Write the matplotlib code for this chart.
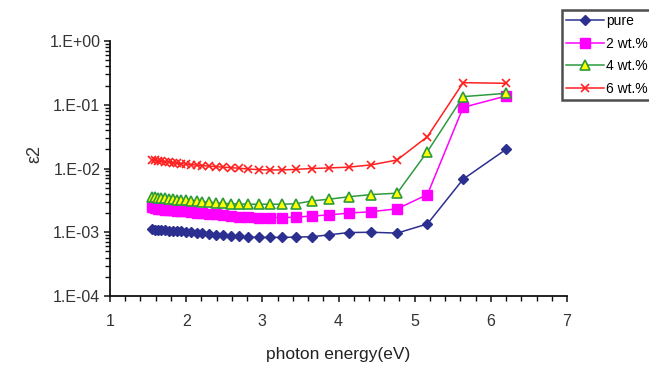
import matplotlib
matplotlib.use("Agg")
import matplotlib.pyplot as plt
from matplotlib.ticker import FixedLocator, MultipleLocator, LogLocator, NullFormatter

plt.rcParams['font.family'] = ['Liberation Sans', 'DejaVu Sans']

# photon energy (eV), one point every 20 nm from 800 nm down to 200 nm
energy = [1.550, 1.590, 1.632, 1.676, 1.722, 1.771, 1.824, 1.879, 1.938, 2.000,
          2.067, 2.138, 2.214, 2.296, 2.385, 2.480, 2.583, 2.696, 2.818, 2.952,
          3.100, 3.263, 3.444, 3.647, 3.875, 4.133, 4.429, 4.769, 5.167, 5.636,
          6.200]

eps2_pure = [1.12e-3, 1.10e-3, 1.09e-3, 1.08e-3, 1.07e-3, 1.06e-3, 1.05e-3, 1.04e-3, 1.03e-3, 1.02e-3,
             1.00e-3, 9.8e-4, 9.6e-4, 9.4e-4, 9.2e-4, 9.0e-4, 8.8e-4, 8.6e-4, 8.4e-4, 8.3e-4,
             8.3e-4, 8.3e-4, 8.4e-4, 8.5e-4, 9.1e-4, 9.9e-4, 1.00e-3, 9.7e-4, 1.35e-3, 6.8e-3,
             2.0e-2]

eps2_2wt = [2.50e-3, 2.40e-3, 2.35e-3, 2.30e-3, 2.27e-3, 2.24e-3, 2.21e-3, 2.18e-3, 2.15e-3, 2.12e-3,
            2.08e-3, 2.03e-3, 1.98e-3, 1.94e-3, 1.90e-3, 1.85e-3, 1.80e-3, 1.76e-3, 1.72e-3, 1.70e-3,
            1.70e-3, 1.70e-3, 1.72e-3, 1.80e-3, 1.87e-3, 2.00e-3, 2.10e-3, 2.33e-3, 3.9e-3, 9.1e-2,
            1.37e-1]

eps2_4wt = [3.60e-3, 3.55e-3, 3.50e-3, 3.45e-3, 3.40e-3, 3.35e-3, 3.30e-3, 3.25e-3, 3.20e-3, 3.18e-3,
            3.12e-3, 3.05e-3, 3.00e-3, 2.95e-3, 2.90e-3, 2.85e-3, 2.80e-3, 2.78e-3, 2.75e-3, 2.75e-3,
            2.75e-3, 2.75e-3, 2.80e-3, 3.10e-3, 3.30e-3, 3.60e-3, 3.90e-3, 4.10e-3, 1.84e-2, 1.34e-1,
            1.51e-1]

eps2_6wt = [1.36e-2, 1.34e-2, 1.32e-2, 1.30e-2, 1.28e-2, 1.26e-2, 1.24e-2, 1.21e-2, 1.19e-2, 1.17e-2,
            1.15e-2, 1.13e-2, 1.11e-2, 1.09e-2, 1.07e-2, 1.05e-2, 1.03e-2, 1.01e-2, 9.8e-3, 9.6e-3,
            9.5e-3, 9.5e-3, 9.7e-3, 1.00e-2, 1.02e-2, 1.05e-2, 1.14e-2, 1.36e-2, 3.16e-2, 2.22e-1,
            2.17e-1]

labels = ["pure", "2 wt.%", "4 wt.%", "6 wt.%"]
x_ticks = [1, 2, 3, 4, 5, 6, 7]
y_ticks = [1e-4, 1e-3, 1e-2, 1e-1, 1e0]
y_ticklabels = ["1.E-04", "1.E-03", "1.E-02", "1.E-01", "1.E+00"]

fig = plt.figure(figsize=(6.49, 3.65), dpi=100)
ax = fig.add_axes([0.1695, 0.189, 0.7042, 0.6987])

ax.plot(energy, eps2_pure, color="#2B2F8F", lw=1.1, marker="D", ms=5.5,
        mfc="#2B2F8F", mec="#2B2F8F", label=labels[0])
ax.plot(energy, eps2_2wt, color="#FF00FF", lw=1.1, marker="s", ms=6.5,
        mfc="#FF00FF", mec="#FF00FF", label=labels[1])
ax.plot(energy, eps2_4wt, color="#2E9A3E", lw=1.1, marker="^", ms=6.5,
        mfc="#FFFF00", mec="#2E9A3E", mew=1.2, label=labels[2])
ax.plot(energy, eps2_6wt, color="#FF2020", lw=1.1, marker="x", ms=6,
        mec="#FF2020", mew=1.2, label=labels[3])

ax.set_yscale("log")
ax.set_xlim(1, 7)
ax.set_ylim(1e-4, 1e0)

ax.xaxis.set_major_locator(FixedLocator(x_ticks))
ax.xaxis.set_minor_locator(MultipleLocator(0.2))
ax.set_yticks(y_ticks)
ax.set_yticklabels(y_ticklabels)
ax.yaxis.set_minor_locator(LogLocator(base=10, subs=range(2, 10)))
ax.yaxis.set_minor_formatter(NullFormatter())

for side in ("top", "right"):
    ax.spines[side].set_visible(False)
for side in ("left", "bottom"):
    ax.spines[side].set_linewidth(1.3)
    ax.spines[side].set_color("#111111")

ax.tick_params(axis="both", which="major", direction="out", length=4, width=1.1,
               labelsize=11.5, colors="#111111", labelcolor="#333333", pad=3)
ax.tick_params(axis="x", which="major", pad=9)
ax.tick_params(axis="both", which="minor", direction="out", length=3.5, width=1.0,
               colors="#111111")

fig.text(0.521, 0.030, "photon energy(eV)", fontsize=12.5, color="#222222",
         ha="center", va="center")
fig.text(0.054, 0.578, "ε2", rotation=90, fontsize=13, color="#333333",
         ha="center", va="center")

leg = fig.legend(loc="upper left", bbox_to_anchor=(0.866, 0.973),
                 bbox_transform=fig.transFigure, fontsize=10, frameon=True,
                 fancybox=False, handlelength=2.7, handletextpad=0.2,
                 labelspacing=0.62, borderpad=0.3, borderaxespad=0)
leg.get_frame().set_edgecolor("#222222")
leg.get_frame().set_linewidth(1.8)

fig.savefig("out.png", dpi=100)
